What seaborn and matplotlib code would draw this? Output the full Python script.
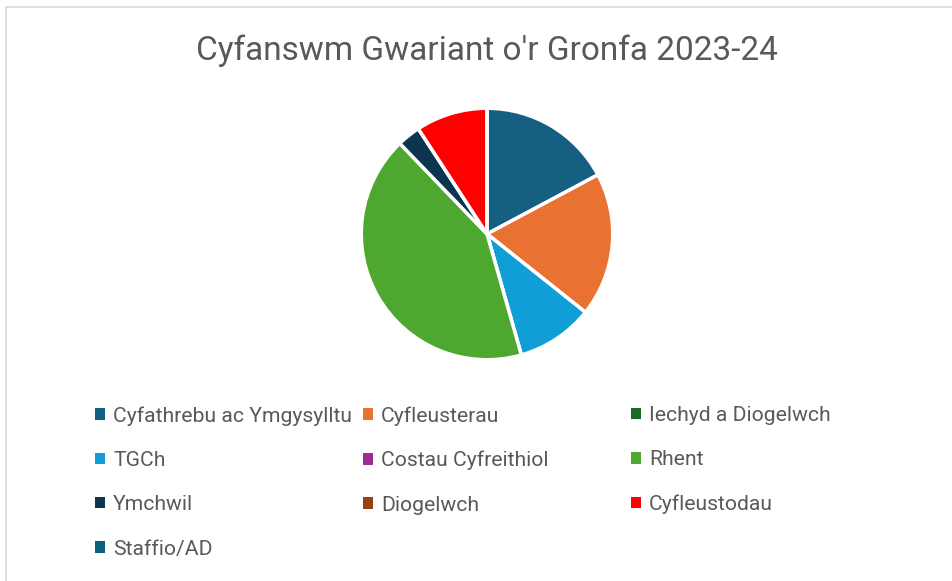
import matplotlib.pyplot as plt
import seaborn as sns
from matplotlib.patches import Patch, Rectangle

sns.set_theme(style='white')
plt.rcParams['font.family'] = ['Roboto', 'DejaVu Sans']

categorïau = ['Cyfathrebu ac Ymgysylltu', 'Cyfleusterau', 'Iechyd a Diogelwch',
              'TGCh', 'Costau Cyfreithiol', 'Rhent',
              'Ymchwil', 'Diogelwch', 'Cyfleustodau',
              'Staffio/AD']
gwariant = [17.2, 18.5, 0, 9.9, 0, 42.2, 3.0, 0, 9.2, 0]
lliwiau = ['#156082', '#E97132', '#196B24', '#0F9ED5', '#A02B93',
           '#4EA72E', '#0E3550', '#9A3F10', '#FF0000', '#0B5F80']

testun = '#595959'

fig = plt.figure(figsize=(9.52, 5.81), dpi=100)
fig.patches.append(Rectangle((6 / 952, -0.1), 1.2, 1 - 7 / 581 + 0.1,
                             transform=fig.transFigure, fill=False,
                             edgecolor='#d9d9d9', linewidth=1.2))

ax = fig.add_axes([(487 - 127) / 952, (581 - 361) / 581, 254 / 952, 254 / 581])
ax.pie(gwariant, colors=lliwiau, startangle=90, counterclock=False,
       wedgeprops=dict(edgecolor='white', linewidth=2.5))
ax.set_xlim(-1.01, 1.01)
ax.set_ylim(-1.01, 1.01)
ax.set_aspect('equal')
ax.axis('off')

fig.text(487 / 952, 1 - 51 / 581, "Cyfanswm Gwariant o'r Gronfa 2023-24",
         ha='center', va='center', fontsize=24, color=testun)

# three legend columns, row-major like the original
x_col = [95, 363, 631]
for c in range(3):
    idx = list(range(c, len(categorïau), 3))
    handles = [Patch(facecolor=lliwiau[i], edgecolor='none') for i in idx]
    labels = [categorïau[i] for i in idx]
    leg = fig.legend(handles, labels, loc='upper left',
                     bbox_to_anchor=(x_col[c] / 952, 1 - 406 / 581),
                     frameon=False, fontsize=15.2, handlelength=0.47,
                     handleheight=0.47, handletextpad=0.38, labelspacing=1.2,
                     borderpad=0, borderaxespad=0)
    for t in leg.get_texts():
        t.set_color(testun)

fig.savefig('out.png', dpi=100)
